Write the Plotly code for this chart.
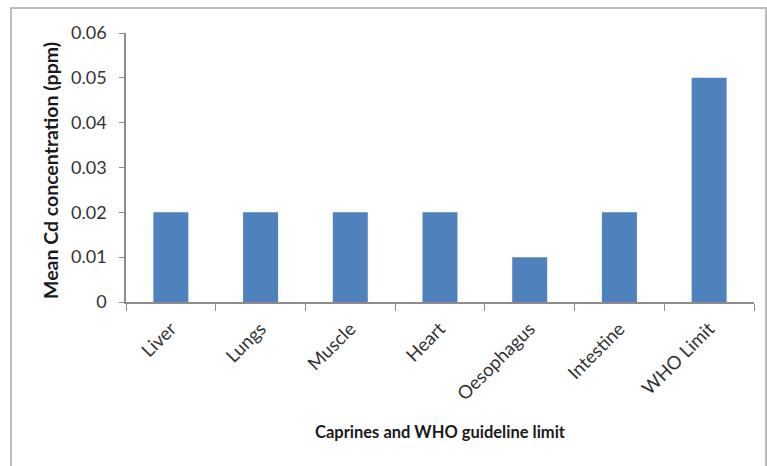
import plotly.graph_objects as go

# Mean cadmium concentration by caprine organ, with WHO guideline limit
organs = ["Liver", "Lungs", "Muscle", "Heart", "Oesophagus", "Intestine", "WHO Limit"]
cd_ppm = [0.02, 0.02, 0.02, 0.02, 0.01, 0.02, 0.05]
y_ticks = [0, 0.01, 0.02, 0.03, 0.04, 0.05, 0.06]
y_tick_text = ["0", "0.01", "0.02", "0.03", "0.04", "0.05", "0.06"]

W, H = 767, 466
ML, MR, MT, MB = 126, 13, 33, 164
PW, PH = W - ML - MR, H - MT - MB

FONT = "Lato, Carlito, Calibri, sans-serif"
AXIS_COLOR = "#8c8c8c"

fig = go.Figure(
    go.Bar(
        x=organs,
        y=cd_ppm,
        marker=dict(color="#4f81bd", line=dict(width=0)),
        width=0.39,
    )
)

fig.update_layout(
    width=W,
    height=H,
    margin=dict(l=ML, r=MR, t=MT, b=MB),
    paper_bgcolor="white",
    plot_bgcolor="white",
    showlegend=False,
    font=dict(family=FONT, size=18, color="#333333"),
    xaxis=dict(
        type="category",
        range=[-0.5, len(organs) - 0.5],
        showline=True,
        linecolor=AXIS_COLOR,
        linewidth=1.5,
        ticks="outside",
        tickson="boundaries",
        ticklen=7,
        tickcolor=AXIS_COLOR,
        tickangle=-45,
        ticklabelstandoff=7,
        tickfont=dict(size=18.5),
        showgrid=False,
        automargin=False,
    ),
    yaxis=dict(
        range=[0, 0.06],
        tickvals=y_ticks,
        ticktext=y_tick_text,
        showline=True,
        linecolor=AXIS_COLOR,
        linewidth=1.5,
        ticks="outside",
        ticklen=5,
        tickcolor=AXIS_COLOR,
        ticklabelstandoff=9,
        tickfont=dict(size=18),
        showgrid=False,
        zeroline=False,
        automargin=False,
    ),
    annotations=[
        dict(
            text="<b>Caprines and WHO guideline limit</b>",
            xref="paper", yref="paper",
            x=0.5, y=-(432 - (MT + PH)) / PH,
            xanchor="center", yanchor="middle",
            showarrow=False,
            font=dict(size=16.5, color="#1a1a1a"),
        ),
        dict(
            text="<b>Mean Cd concentration (ppm)</b>",
            xref="paper", yref="paper",
            x=(50 - ML) / PW, y=1 - (171 - MT) / PH,
            xanchor="center", yanchor="middle",
            textangle=-90,
            showarrow=False,
            font=dict(size=19.5, color="#1a1a1a"),
        ),
    ],
    shapes=[
        # chart frame
        dict(
            type="rect", xref="paper", yref="paper",
            x0=(11 - ML) / PW, x1=(766 - ML) / PW,
            y0=(MT + PH - 475) / PH, y1=1 + (MT - 8) / PH,
            line=dict(color="#bdbdbd", width=2),
            fillcolor="rgba(0,0,0,0)",
            layer="below",
        )
    ],
)

fig.write_html("out.html")
